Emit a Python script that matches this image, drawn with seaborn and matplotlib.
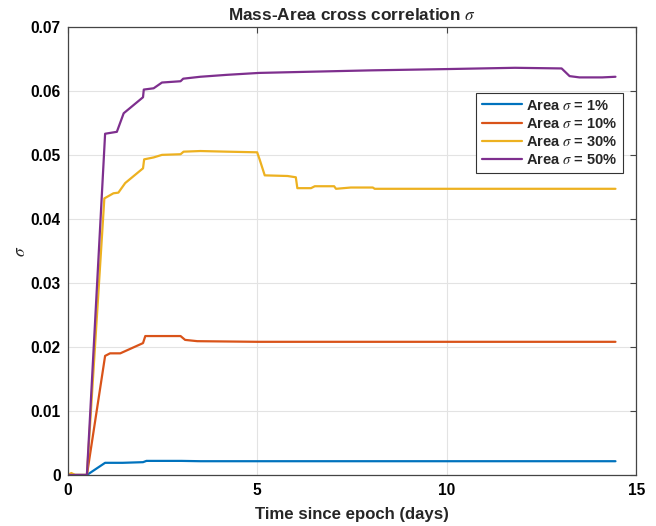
import numpy as np
import pandas as pd
import matplotlib
matplotlib.use("Agg")
import matplotlib.pyplot as plt
import seaborn as sns

# Cross-correlation sigma over time for each area-uncertainty level
t_1 = [0.0, 0.51, 0.99, 1.45, 1.99, 2.08, 3.0, 3.5, 5.0, 8.0, 14.45]
s_1 = [0.0, 0.0, 0.0019, 0.0019, 0.0020, 0.0022, 0.0022, 0.00215, 0.00215, 0.00215, 0.00215]

t_10 = [0.0, 0.51, 0.99, 1.12, 1.39, 1.99, 2.05, 2.2, 2.98, 3.1, 3.42, 5.0, 8.0, 14.45]
s_10 = [0.0, 0.0, 0.0186, 0.0190, 0.0190, 0.0206, 0.0217, 0.0217, 0.0217, 0.0211, 0.0209,
        0.0208, 0.0208, 0.0208]

t_30 = [0.0, 0.1, 0.2, 0.51, 0.97, 1.21, 1.34, 1.52, 1.99, 2.02, 2.27, 2.49, 2.98, 3.06,
        3.5, 4.2, 5.0, 5.07, 5.2, 5.8, 6.02, 6.06, 6.42, 6.52, 7.03, 7.08, 7.47, 8.05, 8.1,
        14.45]
s_30 = [0.0, 0.0003, 0.0, 0.0, 0.0432, 0.0440, 0.0441, 0.0456, 0.0479, 0.0493, 0.0496,
        0.0500, 0.0501, 0.0505, 0.0506, 0.0505, 0.0504, 0.0492, 0.0468, 0.0467, 0.0465,
        0.0448, 0.0448, 0.0451, 0.0451, 0.0447, 0.0449, 0.0449, 0.0447, 0.0447]

t_50 = [0.0, 0.51, 0.99, 1.30, 1.48, 1.99, 2.01, 2.27, 2.49, 2.98, 3.05, 3.5, 4.2, 5.05,
        6.5, 8.0, 10.0, 11.8, 13.03, 13.24, 13.5, 14.1, 14.45]
s_50 = [0.0, 0.0, 0.0533, 0.0536, 0.0565, 0.0590, 0.0602, 0.0604, 0.0613, 0.0615, 0.0619,
        0.0622, 0.0625, 0.0628, 0.0630, 0.0632, 0.0634, 0.0636, 0.0635, 0.0623, 0.0621,
        0.0621, 0.0622]

labels = [r"Area $\sigma$ = 1%", r"Area $\sigma$ = 10%",
          r"Area $\sigma$ = 30%", r"Area $\sigma$ = 50%"]
colors = ["#0072BD", "#D95319", "#EDB120", "#7E2F8E"]

x_ticks = [0, 5, 10, 15]
y_ticks = [0, 0.01, 0.02, 0.03, 0.04, 0.05, 0.06, 0.07]
y_tick_labels = ["0", "0.01", "0.02", "0.03", "0.04", "0.05", "0.06", "0.07"]

frames = []
for lab, tt, ss in zip(labels, [t_1, t_10, t_30, t_50], [s_1, s_10, s_30, s_50]):
    frames.append(pd.DataFrame({"t": tt, "sigma": ss, "series": lab}))
df = pd.concat(frames, ignore_index=True)

sns.set_theme(style="whitegrid")
plt.rcParams["font.family"] = ["Liberation Sans", "DejaVu Sans"]
plt.rcParams["mathtext.fontset"] = "stix"

fig = plt.figure(figsize=(6.56, 5.26), dpi=100)
ax = fig.add_axes([0.103, 0.097, 0.867, 0.852])

sns.lineplot(data=df, x="t", y="sigma", hue="series", hue_order=labels,
             palette=colors, estimator=None, sort=False, linewidth=1.6, ax=ax,
             legend=False)

ax.set_xlim(0, 15)
ax.set_ylim(0, 0.07)
ax.set_xticks(x_ticks)
ax.set_xticklabels([str(v) for v in x_ticks])
ax.set_yticks(y_ticks)
ax.set_yticklabels(y_tick_labels)

ax.set_facecolor("white")
ax.grid(True, color="#e3e3e3", linewidth=0.8)
for sp in ax.spines.values():
    sp.set_visible(True)
    sp.set_color("#444444")
    sp.set_linewidth(0.9)

ax.tick_params(axis="both", which="both", direction="in", length=4, width=0.8,
               color="#444444", top=True, right=True, labelsize=11.2,
               labelcolor="black")
ax.tick_params(axis="x", pad=6)
ax.tick_params(axis="y", pad=5)
for lbl in ax.get_xticklabels() + ax.get_yticklabels():
    lbl.set_fontweight("bold")

ax.set_title(r"Mass-Area cross correlation $\sigma$", fontsize=12.4,
             fontweight="bold", pad=5)
ax.set_xlabel("Time since epoch (days)", fontsize=12.1, fontweight="bold", labelpad=6)
ax.set_ylabel(r"$\sigma$", fontsize=12.5, labelpad=2)

handles = [plt.Line2D([0], [0], color=c, lw=1.6) for c in colors]
leg = ax.legend(handles, labels, loc="upper right", bbox_to_anchor=(0.977, 0.853),
                borderaxespad=0, frameon=True, fancybox=False, edgecolor="#333333",
                prop={"weight": "bold", "size": 10.5}, handlelength=2.7,
                borderpad=0.4, labelspacing=0.28, handletextpad=0.3)
leg.get_frame().set_linewidth(0.8)
leg.get_frame().set_facecolor("white")
leg.get_frame().set_alpha(1.0)

fig.savefig("out.png", dpi=100)
